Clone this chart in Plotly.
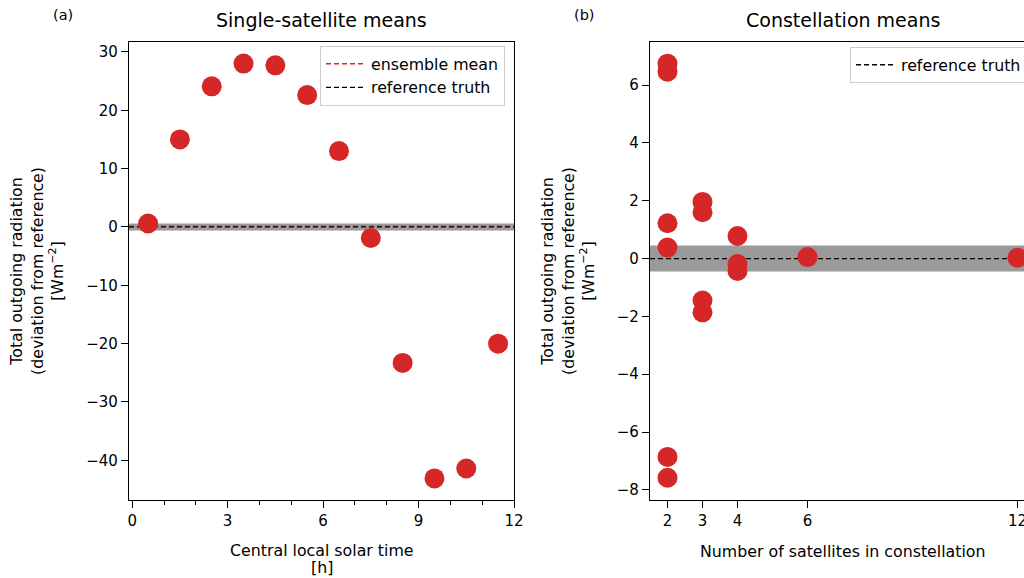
import numpy as np
import plotly.graph_objects as go

# ---------------- data ----------------
lst_hours = [0.5, 1.5, 2.5, 3.5, 4.5, 5.5, 6.5, 7.5, 8.5, 9.5, 10.5, 11.5]
single_dev = [0.6, 15.0, 24.1, 28.0, 27.7, 22.6, 13.0, -1.9, -23.3, -43.1, -41.4, -20.0]

n_sats = [2, 2, 2, 2, 2, 2, 3, 3, 3, 3, 4, 4, 4, 6, 12]
const_dev = [6.74, 6.46, 1.22, 0.38, -6.86, -7.58, 1.96, 1.60, -1.45, -1.86, 0.78, -0.19, -0.43, 0.05, 0.03]

reference_truth = 0.0
band_single = 0.6
band_const = 0.45
ensemble_mean = float(np.mean(single_dev))

left_xticks = [0, 3, 6, 9, 12]
left_yticks = [-40, -30, -20, -10, 0, 10, 20, 30]
right_xticks = [2, 3, 4, 6, 12]
right_yticks = [-8, -6, -4, -2, 0, 2, 4, 6]

left_xrange = [-0.1, 12.0]
left_yrange = [-46.8, 31.7]
right_xrange = [1.5, 12.186]   # full axis is 1.5..12.5, right part cut by the page edge
right_yrange = [-8.35, 7.49]


def lab(v):
    return str(v).replace("-", "\u2212")


RED = "#d62728"
FONT = "DejaVu Sans"
W, H = 1024, 578

fig = go.Figure()

# scatter points
fig.add_trace(go.Scatter(x=lst_hours, y=single_dev, mode="markers",
                         marker=dict(color=RED, size=20, line=dict(width=0)),
                         showlegend=False, xaxis="x", yaxis="y"))
fig.add_trace(go.Scatter(x=n_sats, y=const_dev, mode="markers",
                         marker=dict(color=RED, size=20, line=dict(width=0)),
                         showlegend=False, xaxis="x2", yaxis="y2"))

# legend entries (empty traces)
fig.add_trace(go.Scatter(x=[None], y=[None], mode="lines", name="ensemble mean",
                         line=dict(color=RED, width=1.3, dash="5px,3px"),
                         xaxis="x", yaxis="y", legend="legend"))
fig.add_trace(go.Scatter(x=[None], y=[None], mode="lines", name="reference truth",
                         line=dict(color="black", width=1.3, dash="5px,3px"),
                         xaxis="x", yaxis="y", legend="legend"))
fig.add_trace(go.Scatter(x=[None], y=[None], mode="lines", name="reference truth",
                         line=dict(color="black", width=1.3, dash="5px,3px"),
                         xaxis="x2", yaxis="y2", legend="legend2"))

shapes = []
# grey uncertainty bands
shapes.append(dict(type="rect", xref="x domain", yref="y", x0=0, x1=1,
                   y0=reference_truth - band_single, y1=reference_truth + band_single,
                   fillcolor="#9a9a9a", line=dict(width=0), layer="below"))
shapes.append(dict(type="rect", xref="x2 domain", yref="y2", x0=0, x1=1,
                   y0=reference_truth - band_const, y1=reference_truth + band_const,
                   fillcolor="#9a9a9a", line=dict(width=0), layer="below"))
# ensemble mean + reference lines
shapes.append(dict(type="line", xref="x domain", yref="y", x0=0, x1=1,
                   y0=ensemble_mean, y1=ensemble_mean,
                   line=dict(color=RED, width=1.3, dash="5px,3px"), layer="below"))
shapes.append(dict(type="line", xref="x domain", yref="y", x0=0, x1=1,
                   y0=reference_truth, y1=reference_truth,
                   line=dict(color="black", width=1.3, dash="5px,3px"), layer="below"))
shapes.append(dict(type="line", xref="x2 domain", yref="y2", x0=0, x1=1,
                   y0=reference_truth, y1=reference_truth,
                   line=dict(color="black", width=1.3, dash="5px,3px"), layer="below"))

ydom = [(H - 500) / H, (H - 42) / H]
axis_common = dict(showline=True, linecolor="black", linewidth=1.3,
                   ticks="outside", ticklen=7, tickwidth=1.3, tickcolor="black",
                   showgrid=False, zeroline=False, ticklabeloverflow="allow",
                   tickfont=dict(family=FONT, size=15, color="black"))

fig.update_layout(
    width=W, height=H,
    margin=dict(l=0, r=0, t=0, b=0, autoexpand=False),
    paper_bgcolor="white", plot_bgcolor="white",
    font=dict(family=FONT, size=15, color="black"),
    shapes=shapes,
    xaxis=dict(domain=[129 / W, 514 / W], range=left_xrange, anchor="y", mirror=True,
               tickmode="array", tickvals=left_xticks, ticktext=[lab(v) for v in left_xticks],
               minor=dict(dtick=1, tick0=0, ticks="outside", ticklen=4, tickwidth=1.1,
                          tickcolor="black", showgrid=False),
               **axis_common),
    yaxis=dict(domain=ydom, range=left_yrange, anchor="x", mirror=True,
               tickmode="array", tickvals=left_yticks, ticktext=[lab(v) for v in left_yticks],
               **axis_common),
    xaxis2=dict(domain=[650 / W, 1.0], range=right_xrange, anchor="y2", mirror=True,
                tickmode="array", tickvals=right_xticks, ticktext=[lab(v) for v in right_xticks],
                **axis_common),
    yaxis2=dict(domain=ydom, range=right_yrange, anchor="x2", mirror=False,
                tickmode="array", tickvals=right_yticks, ticktext=[lab(v) for v in right_yticks],
                **axis_common),
    legend=dict(x=320 / W, y=1 - 46 / H, xanchor="left", yanchor="top",
                bgcolor="rgba(255,255,255,0.8)", bordercolor="#cccccc", borderwidth=1,
                font=dict(family=FONT, size=15.8, color="black"), itemwidth=40,
                tracegroupgap=0),
    legend2=dict(x=850 / W, y=1 - 47 / H, xanchor="left", yanchor="top",
                 bgcolor="rgba(255,255,255,0.8)", bordercolor="#cccccc", borderwidth=1,
                 font=dict(family=FONT, size=15.8, color="black"), itemwidth=40),
)


def ann(text, x, y, size, angle=0):
    fig.add_annotation(text=text, x=x / W, y=1 - y / H, xref="paper", yref="paper",
                       xanchor="center", yanchor="middle", showarrow=False,
                       textangle=angle, font=dict(family=FONT, size=size, color="black"))


ann("(a)", 63, 15, 14.5)
ann("(b)", 584, 15, 14.5)
ann("Single-satellite means", 321.5, 20, 19)
ann("Constellation means", 842.5, 20, 19)
ann("Central local solar time", 322, 550, 15.8)
ann("[h]", 322, 567, 15.8)
ann("Number of satellites in constellation", 842.5, 551, 15.8)
ytitle = "Total outgoing radiation<br>(deviation from reference)<br>[Wm<sup>\u22122</sup>]"
ann(ytitle, 37, 271, 15.8, -90)
ann(ytitle, 568, 271, 15.8, -90)

fig.write_html("out.html",
               config={"displayModeBar": False},
               post_script="document.body.style.margin='0';"
                           "document.body.style.overflow='hidden';")
